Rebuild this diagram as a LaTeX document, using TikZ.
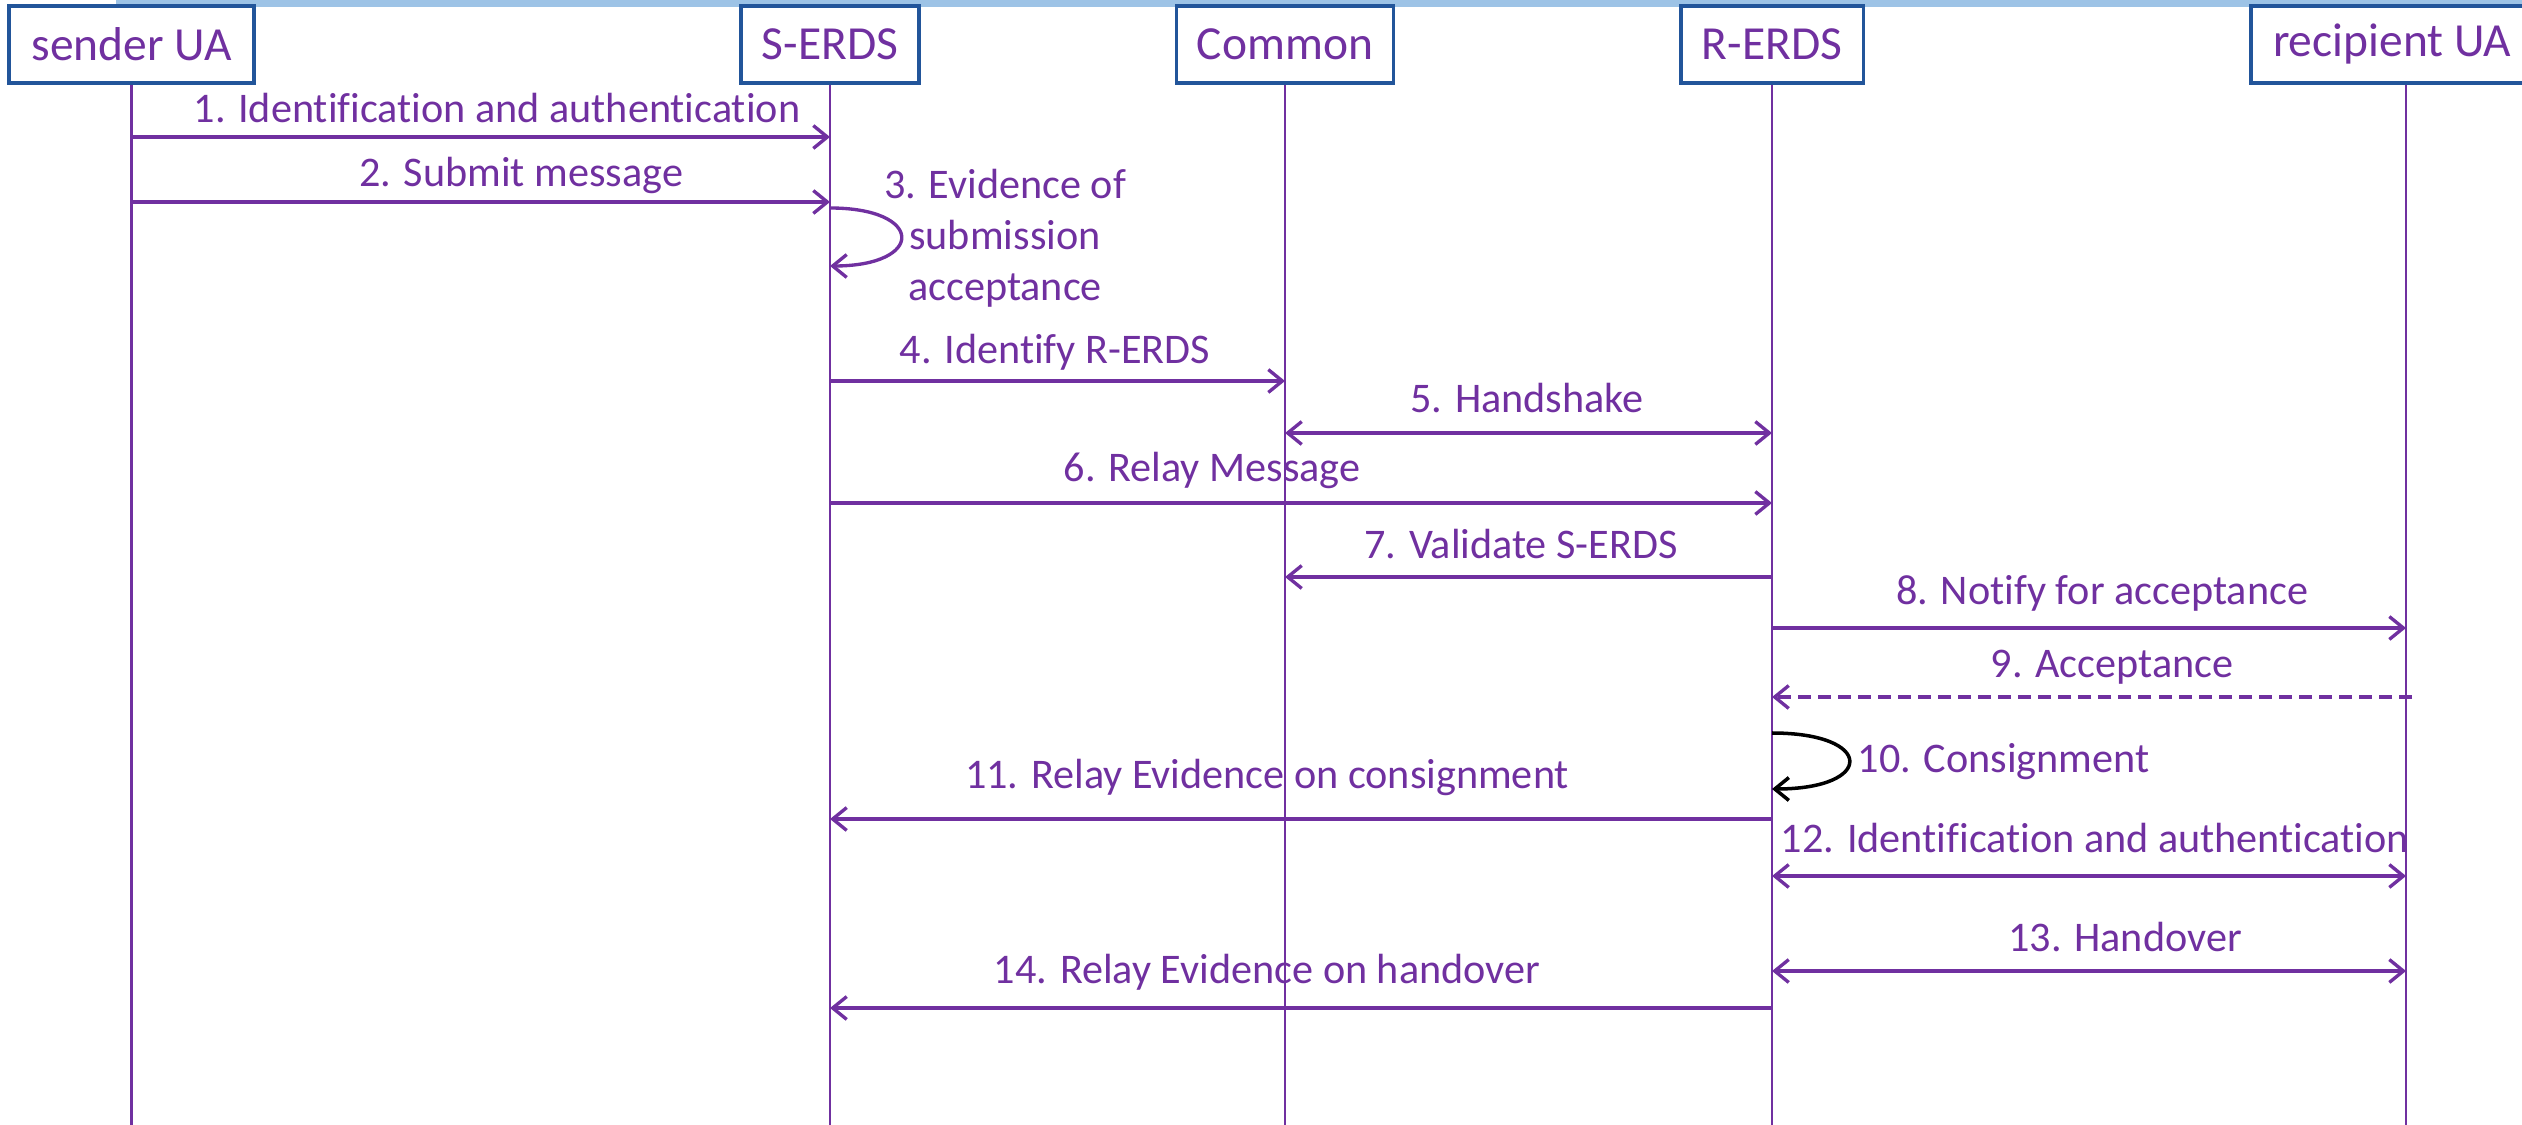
\documentclass[tikz,border=0pt]{standalone}
\usepackage{fontspec}
\setmainfont{Carlito}[Ligatures=NoCommon]
\usetikzlibrary{arrows.meta}
\definecolor{vio}{HTML}{7030A0}
\definecolor{bbord}{HTML}{22559A}
\definecolor{ltblue}{HTML}{9DC3E6}
\tikzset{
    RA/.style ={rectangle, draw=bbord, line width=0.9pt, fill=white, minimum height=0.77cm, inner xsep=0pt, text=vio, font=\fontsize{13.5}{16}\selectfont},
    LL/.style ={vio, line width=0.8pt},
    MS/.style ={vio, line width=0.95pt, -{Straight Barb[length=4pt,width=6.5pt]}},
    DM/.style ={MS, {Straight Barb[length=4pt,width=6.5pt]}-{Straight Barb[length=4pt,width=6.5pt]}},
    LB/.style ={text=vio, font=\fontsize{12}{14.5}\selectfont, inner sep=0pt}}

\begin{document}
\begin{tikzpicture}[x=0.01cm,y=-0.01cm]
    \useasboundingbox (0,0) rectangle (2522,1125);
    \clip (0,0) rectangle (2522,1125);
    \fill[ltblue] (116,0) rectangle (2522,7);
    % actors
    \node[RA, minimum width=2.45cm] (sua) at (131.5,44.5) {sender UA};
    \node[RA, minimum width=1.78cm] (serds) at (830,44.5) {S-ERDS};
    \node[RA, minimum width=2.17cm] (com) at (1285,44.5) {Common};
    \node[RA, minimum width=1.82cm] (rerds) at (1772,44.5) {R-ERDS};
    \node[RA, minimum width=2.82cm] (rua) at (2392,44.5) {recipient UA};
    \coordinate (ruaL) at ([xshift=0.14cm]rua.south);
    % life lines
    \draw[LL] (sua.south) -- (sua.south |- 0,1125);
    \draw[LL] (serds.south) -- (serds.south |- 0,1125);
    \draw[LL] (com.south) -- (com.south |- 0,1125);
    \draw[LL] (rerds.south) -- (rerds.south |- 0,1125);
    \draw[LL] (ruaL) -- (ruaL |- 0,1125);
    % messages
    \draw[MS] (sua |- 0,137) -- (serds |- 0,137);
    \node[LB] (m1) at (497,108) {1. Identification and authentication};
    \draw[MS] (sua |- 0,202) -- (serds |- 0,202);
    \node[LB] (m2) at (521,175) {2. Submit message};
    \draw[MS] (serds |- 0,208) .. controls (925,208) and (925,266) .. (serds |- 0,266);
    \node[LB, align=center] (m3) at (1005,238) {3. Evidence of\\submission\\acceptance};
    \draw[MS] (serds |- 0,381) -- (com |- 0,381);
    \node[LB] (m4) at (1055,352) {4. Identify R-ERDS};
    \draw[DM] (com |- 0,433) -- (rerds |- 0,433);
    \node[LB] (m5) at (1527,398) {5. Handshake};
    \draw[MS] (serds |- 0,503) -- (rerds |- 0,503);
    \node[LB] (m6) at (1212,470) {6. Relay Message};
    \draw[MS] (rerds |- 0,577) -- (com |- 0,577);
    \node[LB] (m7) at (1521,544) {7. Validate S-ERDS};
    \draw[MS] (rerds |- 0,628) -- (ruaL |- 0,628);
    \node[LB] (m8) at (2102,593) {8. Notify for acceptance};
    \draw[MS, dash pattern=on 3.7pt off 2pt] ([xshift=0.06cm]ruaL |- 0,697) -- (rerds |- 0,697);
    \node[LB] (m9) at (2112,667) {9. Acceptance};
    \draw[MS, black, line width=1pt] (rerds |- 0,733) .. controls (1875,733) and (1875,789) .. (rerds |- 0,789);
    \node[LB, anchor=west] (m10) at (1857,762) {10. Consignment};
    \draw[MS] (rerds |- 0,819) -- (serds |- 0,819);
    \node[LB] (m11) at (1267,777) {11. Relay Evidence on consignment};
    \draw[DM] (rerds |- 0,876) -- (ruaL |- 0,876);
    \node[LB] (m12) at (2095,838) {12. Identification and authentication};
    \draw[DM] (rerds |- 0,971) -- (ruaL |- 0,971);
    \node[LB] (m13) at (2125,937) {13. Handover};
    \draw[MS] (rerds |- 0,1008) -- (serds |- 0,1008);
    \node[LB] (m14) at (1267,972) {14. Relay Evidence on handover};
\end{tikzpicture}
\end{document}
